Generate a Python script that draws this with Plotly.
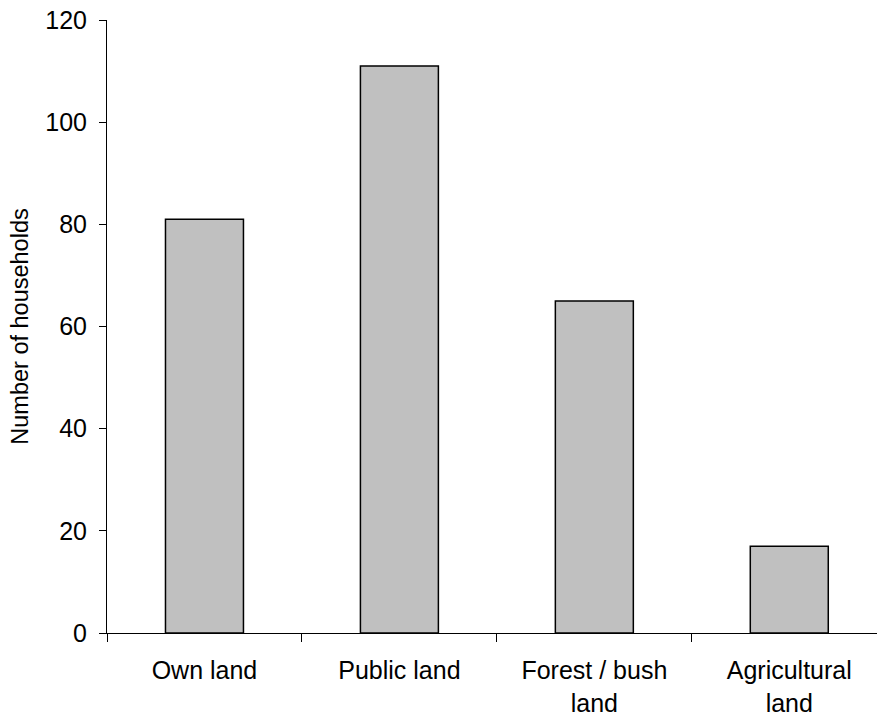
import plotly.graph_objects as go

categories = ['Own land', 'Public land', 'Forest / bush<br>land', 'Agricultural<br>land']
households = [81, 111, 65, 17]
y_ticks = [0, 20, 40, 60, 80, 100, 120]

fig = go.Figure(go.Bar(
    x=categories, y=households,
    marker=dict(color='#c0c0c0', line=dict(color='black', width=1.5)),
))

fig.update_layout(
    width=877, height=717,
    margin=dict(l=107, r=0, t=20, b=84),
    plot_bgcolor='white', paper_bgcolor='white',
    bargap=0.6,
    showlegend=False,
    font=dict(family='Liberation Sans, Arial, sans-serif', color='black', size=25),
)

fig.update_xaxes(
    range=[-0.5, 3.45], automargin=False,
    showline=True, linecolor='black', linewidth=1,
    ticks='outside', tickson='boundaries', ticklen=8, tickcolor='black',
    showgrid=False, tickfont=dict(size=25), ticklabelstandoff=15,
)
fig.update_yaxes(
    range=[0, 120], tickvals=y_ticks, automargin=False,
    showline=True, linecolor='black', linewidth=1,
    ticks='outside', ticklen=7, tickcolor='black',
    showgrid=False, zeroline=False, tickfont=dict(size=25), ticklabelstandoff=7,
    title=dict(text='Number of households', font=dict(size=23.5), standoff=10),
)

# drop the default 8px body margin so the figure sits at the page corner
fig.write_html('out.html', config={'displayModeBar': False},
               post_script="document.body.style.margin='0';")
